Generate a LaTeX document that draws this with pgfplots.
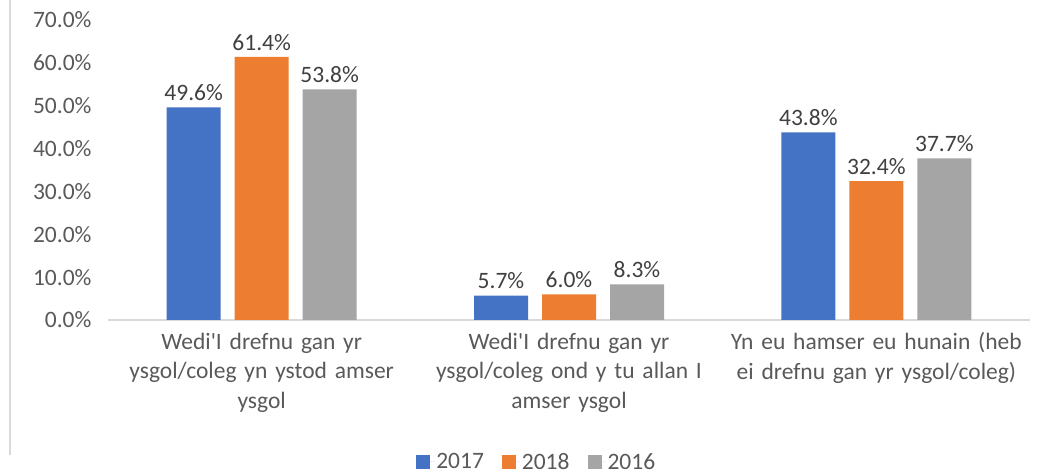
\documentclass[border=0pt]{standalone}
\usepackage{pgfplots}
\pgfplotsset{compat=1.18}
\usepackage{fontspec}
\setmainfont{Carlito}
\definecolor{cblue}{HTML}{4472C4}
\definecolor{corange}{HTML}{ED7D31}
\definecolor{cgray}{HTML}{A5A5A5}
\definecolor{ctext}{HTML}{595959}
\definecolor{clabel}{HTML}{404040}
\definecolor{cline}{HTML}{D9D9D9}
\begin{document}
\begin{tikzpicture}
\useasboundingbox (-108pt,-153pt) rectangle (934pt,320pt);
\draw[cline, line width=1.2pt] (-98pt,-135pt) -- (-98pt,320pt);
\begin{axis}[
  scale only axis,
  width=922pt, height=300pt,
  at={(0,0)}, anchor=south west,
  ybar,
  bar width=54pt,
  ymin=0, ymax=70,
  xmin=-0.5, xmax=2.5,
  ytick={0,10,...,70},
  xtick={0,1,2},
  xticklabels={{Wedi\textquotesingle I drefnu gan yr\\ysgol/coleg yn ystod amser\\ysgol},
               {Wedi\textquotesingle I drefnu gan yr\\ysgol/coleg ond y tu allan I\\amser ysgol},
               {Yn eu hamser eu hunain (heb\\ei drefnu gan yr ysgol/coleg)}},
  yticklabel={\pgfmathprintnumber[fixed,fixed zerofill,precision=1]{\tick}\%},
  /pgf/number format/assume math mode=true,
  axis x line*=bottom,
  axis y line*=left,
  x axis line style={cline, line width=1.2pt, -},
  y axis line style={draw=none},
  tick style={draw=none},
  tick label style={font=\fontsize{23.5}{29.5}\selectfont, text=ctext},
  yticklabel style={xshift=-13pt},
  xticklabel style={text width=320pt, align=center, yshift=-5pt},
  nodes near coords={\pgfmathprintnumber[fixed,fixed zerofill,precision=1]{\pgfplotspointmeta}\%},
  every node near coord/.append style={font=\fontsize{23.5}{28}\selectfont, text=clabel, yshift=3pt},
  legend style={draw=none, at={(0.465,-0.473)}, anchor=center,
    legend columns=3, font=\fontsize{23.5}{28}\selectfont, text=ctext,
    /tikz/every even column/.append style={column sep=16pt}},
  legend image code/.code={\fill[#1, draw=none] (0pt,-7pt) rectangle (14pt,7pt); \path (0pt,0pt) -- (18pt,0pt);},
]
\addplot[fill=cblue, draw=none, bar shift=-68pt] coordinates {(0,49.6) (1,5.7) (2,43.8)};
\addplot[fill=corange, draw=none, bar shift=0pt] coordinates {(0,61.4) (1,6.0) (2,32.4)};
\addplot[fill=cgray, draw=none, bar shift=68pt] coordinates {(0,53.8) (1,8.3) (2,37.7)};
\legend{2017,2018,2016}
\end{axis}
\end{tikzpicture}
\end{document}
